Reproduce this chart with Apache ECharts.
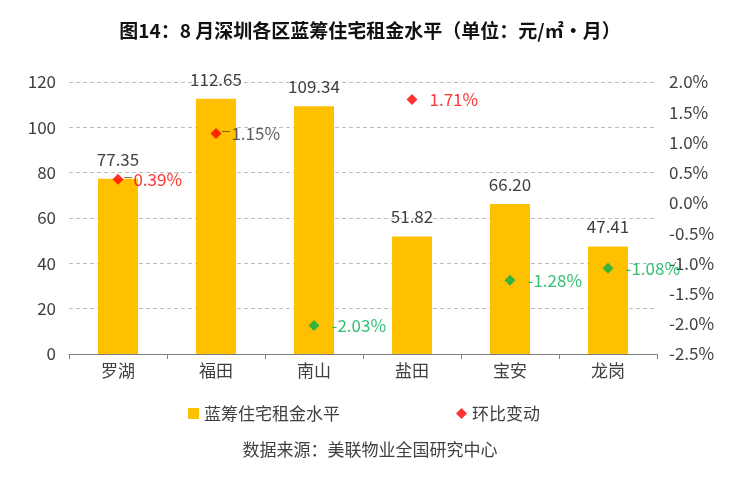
<!DOCTYPE html>
<html>
<head>
<meta charset="utf-8">
<script src="https://cdn.jsdelivr.net/npm/echarts@6/dist/echarts.min.js"></script>
<style>
html,body{margin:0;padding:0;background:#fff;}
#c{width:740px;height:486px;}
</style>
</head>
<body>
<div id="c"></div>
<script>
var categories = ['罗湖', '福田', '南山', '盐田', '宝安', '龙岗'];
var rentLevel = [77.35, 112.65, 109.34, 51.82, 66.20, 47.41];
var momChange = [0.39, 1.15, -2.03, 1.71, -1.28, -1.08];
var leftTicks = {min: 0, max: 120, interval: 20};
var rightTicks = {min: -2.5, max: 2.0, interval: 0.5};

var FONT = '"Noto Sans CJK SC","Noto Sans",sans-serif';
var TXT = '#404040';
var RED = '#FF0000';
var GREEN = '#00B050';
var YELLOW = '#FFC000';
// label styling exceptions (leader line / colour) by category index
var leaderIdx = [0, 1];
var darkLabelIdx = [1];

var scatterData = momChange.map(function (v, i) {
  var col = v >= 0 ? RED : GREEN;
  var lblCol = darkLabelIdx.indexOf(i) >= 0 ? '#333333' : col;
  var hasLeader = leaderIdx.indexOf(i) >= 0;
  return {
    value: v,
    itemStyle: {color: col},
    label: {
      show: true,
      position: 'right',
      distance: hasLeader ? 0 : 12,
      formatter: hasLeader ? '{ln|—}{v|' + v.toFixed(2) + '%}' : '{v|' + v.toFixed(2) + '%}',
      rich: {
        ln: {color: '#000', fontSize: 10, fontFamily: FONT, padding: [0, 1, 6, 0]},
        v: {color: lblCol, fontSize: 17, fontFamily: FONT}
      }
    }
  };
});

var chart = echarts.init(document.getElementById('c'));
chart.setOption({
  backgroundColor: '#fff',
  animation: false,
  textStyle: {fontFamily: FONT},
  title: {
    text: '图14：8 月深圳各区蓝筹住宅租金水平（单位：元/㎡·月）',
    left: 'center',
    top: 16,
    textStyle: {fontSize: 19, fontWeight: 'bold', color: '#111', fontFamily: FONT}
  },
  graphic: [{
    type: 'text',
    left: 'center',
    top: 441,
    style: {text: '数据来源：美联物业全国研究中心', fontSize: 17, fill: TXT, fontFamily: FONT}
  }],
  legend: {
    left: 183,
    top: 400,
    itemGap: 116,
    itemWidth: 11,
    itemHeight: 11,
    textStyle: {fontSize: 17, color: TXT, fontFamily: FONT},
    data: [
      {name: '蓝筹住宅租金水平', icon: 'rect', itemStyle: {color: YELLOW}},
      {name: '环比变动', icon: 'diamond', itemStyle: {color: RED}}
    ]
  },
  grid: {left: 69, right: 83, top: 82, bottom: 132},
  xAxis: {
    type: 'category',
    data: categories,
    axisLine: {lineStyle: {color: '#808080'}},
    axisTick: {show: true, length: 5, lineStyle: {color: '#808080'}},
    axisLabel: {fontSize: 17, color: TXT, margin: 8, fontFamily: FONT}
  },
  yAxis: [{
    type: 'value',
    min: leftTicks.min, max: leftTicks.max, interval: leftTicks.interval,
    axisLine: {show: false},
    axisTick: {show: false},
    axisLabel: {fontSize: 17, color: TXT, margin: 13, fontFamily: FONT},
    splitLine: {show: true, lineStyle: {color: '#BFBFBF', type: [4, 3]}}
  }, {
    type: 'value',
    min: rightTicks.min, max: rightTicks.max, interval: rightTicks.interval,
    axisLine: {show: false},
    axisTick: {show: false},
    splitLine: {show: false},
    axisLabel: {
      fontSize: 17, color: TXT, margin: 12, fontFamily: FONT,
      formatter: function (v) { return v.toFixed(1) + '%'; }
    }
  }],
  series: [{
    name: '蓝筹住宅租金水平',
    type: 'bar',
    data: rentLevel,
    barWidth: 40,
    itemStyle: {color: YELLOW},
    label: {
      show: true, position: 'top', distance: 11,
      fontSize: 17, color: TXT, fontFamily: FONT,
      formatter: function (p) { return p.value.toFixed(2); }
    },
    z: 2
  }, {
    name: '环比变动',
    type: 'scatter',
    yAxisIndex: 1,
    symbol: 'diamond',
    symbolSize: 11,
    data: scatterData,
    z: 5
  }]
});
</script>
</body>
</html>
